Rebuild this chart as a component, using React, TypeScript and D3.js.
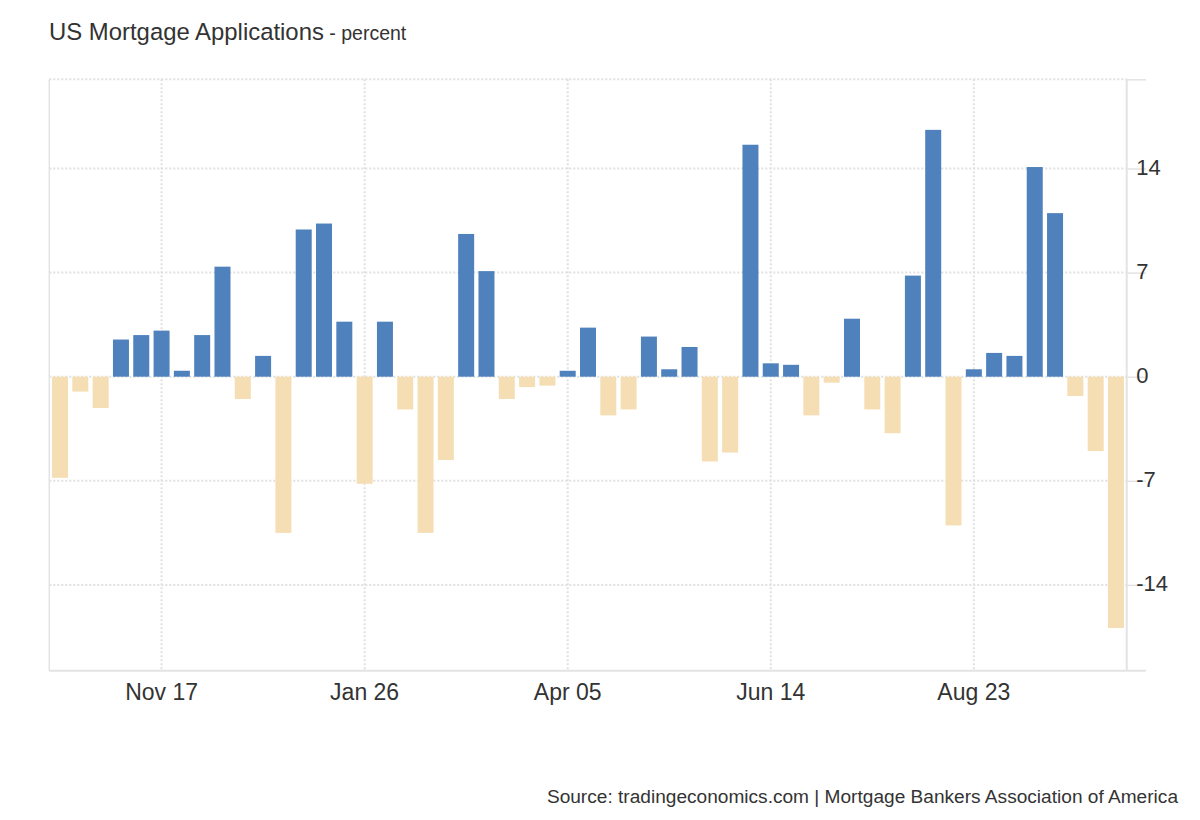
import React, { useEffect, useRef } from 'react';
import * as d3 from 'd3';

// weekly observations (week ending Friday)
const weeks = [
  '2023-10-13', '2023-10-20', '2023-10-27', '2023-11-03', '2023-11-10', '2023-11-17',
  '2023-11-24', '2023-12-01', '2023-12-08', '2023-12-15', '2023-12-22', '2023-12-29',
  '2024-01-05', '2024-01-12', '2024-01-19', '2024-01-26', '2024-02-02', '2024-02-09',
  '2024-02-16', '2024-02-23', '2024-03-01', '2024-03-08', '2024-03-15', '2024-03-22',
  '2024-03-29', '2024-04-05', '2024-04-12', '2024-04-19', '2024-04-26', '2024-05-03',
  '2024-05-10', '2024-05-17', '2024-05-24', '2024-05-31', '2024-06-07', '2024-06-14',
  '2024-06-21', '2024-06-28', '2024-07-05', '2024-07-12', '2024-07-19', '2024-07-26',
  '2024-08-02', '2024-08-09', '2024-08-16', '2024-08-23', '2024-08-30', '2024-09-06',
  '2024-09-13', '2024-09-20', '2024-09-27', '2024-10-04', '2024-10-11',
];

const changes = [
  -6.8, -1.0, -2.1, 2.5, 2.8, 3.1,
  0.4, 2.8, 7.4, -1.5, 1.4, -10.5,
  9.9, 10.3, 3.7, -7.2, 3.7, -2.2,
  -10.5, -5.6, 9.6, 7.1, -1.5, -0.7,
  -0.6, 0.4, 3.3, -2.6, -2.2, 2.7,
  0.5, 2.0, -5.7, -5.1, 15.6, 0.9,
  0.8, -2.6, -0.4, 3.9, -2.2, -3.8,
  6.8, 16.6, -10.0, 0.5, 1.6, 1.4,
  14.1, 11.0, -1.3, -5.0, -16.9,
];

const xTickDates = ['2023-11-17', '2024-01-26', '2024-04-05', '2024-06-14', '2024-08-23'];
const yTicks = [-14, -7, 0, 7, 14];

const FONT = '"Liberation Sans", Arial, Helvetica, sans-serif';

const Chart: React.FC = () => {
  const ref = useRef<SVGSVGElement>(null);

  useEffect(() => {
    if (!ref.current) return;
    const svg = d3.select(ref.current);
    svg.selectAll('*').remove();

    const left = 49.3;
    const right = 1126.7;
    const top = 79.3;
    const bottom = 670.7;

    const parse = d3.utcParse('%Y-%m-%d');
    const data = weeks.map((w, i) => ({ date: parse(w) as Date, value: changes[i] }));

    // about half a week of padding on each side
    const padMs = 3.7 * 24 * 3600 * 1000;
    const first = data[0].date.getTime();
    const last = data[data.length - 1].date.getTime();

    const x = d3
      .scaleUtc()
      .domain([new Date(first - padMs), new Date(last + padMs)])
      .range([left, right]);

    const y = d3.scaleLinear().domain([-19.77, 20]).range([bottom, top]);

    const grid = svg.append('g');
    const gridColor = '#e0e0e0';

    // horizontal dotted grid
    grid
      .selectAll('line.h')
      .data([...yTicks, 20])
      .enter()
      .append('line')
      .attr('x1', left)
      .attr('x2', right)
      .attr('y1', (d) => y(d))
      .attr('y2', (d) => y(d))
      .attr('stroke', gridColor)
      .attr('stroke-width', 2)
      .attr('stroke-dasharray', '2,2');

    // vertical dotted grid
    const tickDates = xTickDates.map((d) => parse(d) as Date);
    grid
      .selectAll('line.v')
      .data(tickDates)
      .enter()
      .append('line')
      .attr('x1', (d) => x(d))
      .attr('x2', (d) => x(d))
      .attr('y1', top)
      .attr('y2', bottom)
      .attr('stroke', gridColor)
      .attr('stroke-width', 2)
      .attr('stroke-dasharray', '2,2');

    // bars
    const barW = 16;
    svg
      .append('g')
      .selectAll('rect')
      .data(data)
      .enter()
      .append('rect')
      .attr('x', (d) => x(d.date) - barW / 2)
      .attr('y', (d) => (d.value >= 0 ? y(d.value) : y(0)))
      .attr('width', barW)
      .attr('height', (d) => Math.abs(y(d.value) - y(0)))
      .attr('fill', (d) => (d.value >= 0 ? '#4f81bd' : '#f5deb3'));

    // frame: left border, bottom line
    svg
      .append('line')
      .attr('x1', left)
      .attr('x2', left)
      .attr('y1', top)
      .attr('y2', bottom)
      .attr('stroke', '#e3e3e3')
      .attr('stroke-width', 1.5);

    svg
      .append('line')
      .attr('x1', left)
      .attr('x2', 1146)
      .attr('y1', bottom)
      .attr('y2', bottom)
      .attr('stroke', '#e3e3e3')
      .attr('stroke-width', 2);

    // right axis
    const yAxis = svg
      .append('g')
      .attr('transform', `translate(${right},0)`)
      .call(
        d3
          .axisRight(y)
          .tickValues([...yTicks, 20])
          .tickSize(19.3)
          .tickFormat((d) => (d === 20 ? '' : String(d)))
      );
    yAxis.select('.domain').attr('stroke', '#e3e3e3').attr('stroke-width', 2).attr('d', `M0,${top}V${bottom}`);
    yAxis.selectAll('.tick line').attr('stroke', '#e3e3e3').attr('stroke-width', 1.5);
    yAxis
      .selectAll('.tick text')
      .attr('x', 9.5)
      .attr('dy', '0.27em')
      .attr('fill', '#333')
      .style('font-family', FONT)
      .style('font-size', '22px');

    // bottom labels
    const fmt = d3.utcFormat('%b %d');
    svg
      .append('g')
      .selectAll('text')
      .data(tickDates)
      .enter()
      .append('text')
      .attr('x', (d) => x(d))
      .attr('y', 700)
      .attr('text-anchor', 'middle')
      .attr('fill', '#333')
      .style('font-family', FONT)
      .style('font-size', '23px')
      .text((d) => fmt(d));

    // title
    const title = svg
      .append('text')
      .attr('x', 49)
      .attr('y', 40)
      .attr('fill', '#333')
      .style('font-family', FONT);
    title.append('tspan').style('font-size', '23.9px').text('US Mortgage Applications');
    title.append('tspan').style('font-size', '19.5px').text(' - percent');

    // source
    svg
      .append('text')
      .attr('x', 1178)
      .attr('y', 803)
      .attr('text-anchor', 'end')
      .attr('fill', '#333')
      .style('font-family', FONT)
      .style('font-size', '19.1px')
      .text('Source: tradingeconomics.com | Mortgage Bankers Association of America');
  }, []);

  return <svg ref={ref} width={1200} height={820} style={{ display: 'block', background: '#fff' }} />;
};

export default function App() {
  return (
    <div style={{ position: 'absolute', left: 0, top: 0, width: 1200, height: 820, background: '#fff' }}>
      <Chart />
    </div>
  );
}
